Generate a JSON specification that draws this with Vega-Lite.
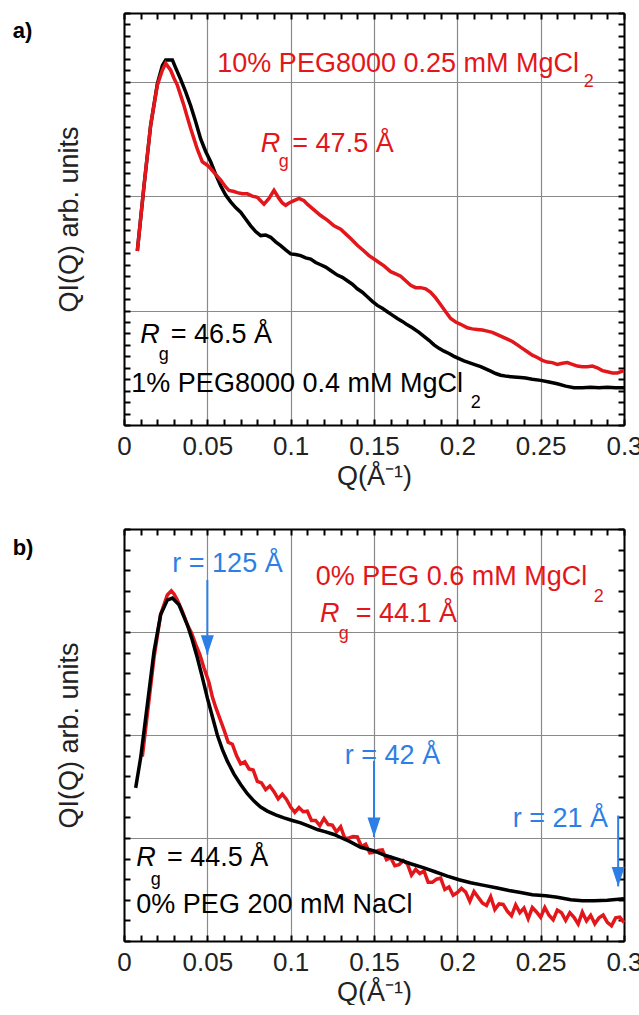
{
"$schema": "https://vega.github.io/schema/vega-lite/v6.json",
"background": "white",
"padding": {"left": 12, "top": 12, "right": 0, "bottom": 0},
"config": {"font": "Liberation Sans", "view": {"stroke": null}, "axis": {"labelFont": "Liberation Sans", "titleFont": "Liberation Sans"}, "text": {"font": "Liberation Sans"}},
"datasets": {
"aBlack": [{"Q":0.008,"I":1.52},{"Q":0.012,"I":2.09},{"Q":0.016,"I":2.62},{"Q":0.02,"I":2.98},{"Q":0.023,"I":3.14},{"Q":0.025,"I":3.19},{"Q":0.029,"I":3.19},{"Q":0.031,"I":3.12},{"Q":0.034,"I":3.02},{"Q":0.037,"I":2.91},{"Q":0.04,"I":2.79},{"Q":0.043,"I":2.65},{"Q":0.046,"I":2.5},{"Q":0.049,"I":2.39},{"Q":0.052,"I":2.3},{"Q":0.055,"I":2.19},{"Q":0.058,"I":2.09},{"Q":0.061,"I":2.01},{"Q":0.064,"I":1.95},{"Q":0.067,"I":1.9},{"Q":0.07,"I":1.86},{"Q":0.073,"I":1.8},{"Q":0.076,"I":1.74},{"Q":0.079,"I":1.69},{"Q":0.082,"I":1.655},{"Q":0.085,"I":1.66},{"Q":0.088,"I":1.64},{"Q":0.091,"I":1.6},{"Q":0.094,"I":1.567},{"Q":0.097,"I":1.53},{"Q":0.1,"I":1.495},{"Q":0.103,"I":1.49},{"Q":0.106,"I":1.48},{"Q":0.109,"I":1.46},{"Q":0.112,"I":1.45},{"Q":0.115,"I":1.42},{"Q":0.118,"I":1.4},{"Q":0.121,"I":1.38},{"Q":0.124,"I":1.35},{"Q":0.128,"I":1.31},{"Q":0.131,"I":1.29},{"Q":0.134,"I":1.26},{"Q":0.137,"I":1.23},{"Q":0.14,"I":1.19},{"Q":0.143,"I":1.16},{"Q":0.146,"I":1.12},{"Q":0.149,"I":1.08},{"Q":0.152,"I":1.045},{"Q":0.155,"I":1.02},{"Q":0.158,"I":0.99},{"Q":0.161,"I":0.96},{"Q":0.164,"I":0.93},{"Q":0.167,"I":0.905},{"Q":0.17,"I":0.875},{"Q":0.173,"I":0.85},{"Q":0.177,"I":0.81},{"Q":0.18,"I":0.775},{"Q":0.183,"I":0.74},{"Q":0.186,"I":0.7},{"Q":0.189,"I":0.67},{"Q":0.192,"I":0.645},{"Q":0.195,"I":0.625},{"Q":0.198,"I":0.6},{"Q":0.201,"I":0.58},{"Q":0.204,"I":0.56},{"Q":0.207,"I":0.545},{"Q":0.21,"I":0.53},{"Q":0.214,"I":0.51},{"Q":0.217,"I":0.49},{"Q":0.22,"I":0.47},{"Q":0.223,"I":0.45},{"Q":0.226,"I":0.435},{"Q":0.23,"I":0.425},{"Q":0.234,"I":0.42},{"Q":0.238,"I":0.415},{"Q":0.241,"I":0.41},{"Q":0.245,"I":0.4},{"Q":0.25,"I":0.39},{"Q":0.255,"I":0.375},{"Q":0.26,"I":0.36},{"Q":0.265,"I":0.34},{"Q":0.27,"I":0.325},{"Q":0.275,"I":0.325},{"Q":0.28,"I":0.33},{"Q":0.285,"I":0.325},{"Q":0.29,"I":0.33},{"Q":0.295,"I":0.325},{"Q":0.3,"I":0.325}],
"aRed": [{"Q":0.008,"I":1.52},{"Q":0.012,"I":2.09},{"Q":0.016,"I":2.62},{"Q":0.02,"I":2.97},{"Q":0.023,"I":3.1},{"Q":0.025,"I":3.16},{"Q":0.028,"I":3.1},{"Q":0.03,"I":3.03},{"Q":0.032,"I":2.97},{"Q":0.034,"I":2.88},{"Q":0.036,"I":2.79},{"Q":0.038,"I":2.69},{"Q":0.04,"I":2.59},{"Q":0.042,"I":2.5},{"Q":0.044,"I":2.41},{"Q":0.047,"I":2.3},{"Q":0.05,"I":2.27},{"Q":0.052,"I":2.24},{"Q":0.055,"I":2.19},{"Q":0.058,"I":2.14},{"Q":0.061,"I":2.08},{"Q":0.063,"I":2.05},{"Q":0.066,"I":2.04},{"Q":0.068,"I":2.03},{"Q":0.071,"I":2.02},{"Q":0.074,"I":2.02},{"Q":0.077,"I":2.0},{"Q":0.08,"I":1.99},{"Q":0.082,"I":1.96},{"Q":0.084,"I":1.93},{"Q":0.087,"I":1.98},{"Q":0.09,"I":2.05},{"Q":0.093,"I":1.98},{"Q":0.095,"I":1.94},{"Q":0.097,"I":1.92},{"Q":0.099,"I":1.94},{"Q":0.102,"I":1.96},{"Q":0.105,"I":1.98},{"Q":0.108,"I":1.96},{"Q":0.11,"I":1.93},{"Q":0.114,"I":1.88},{"Q":0.118,"I":1.83},{"Q":0.122,"I":1.79},{"Q":0.126,"I":1.74},{"Q":0.13,"I":1.71},{"Q":0.133,"I":1.67},{"Q":0.136,"I":1.63},{"Q":0.14,"I":1.57},{"Q":0.144,"I":1.52},{"Q":0.147,"I":1.48},{"Q":0.15,"I":1.45},{"Q":0.153,"I":1.42},{"Q":0.156,"I":1.39},{"Q":0.16,"I":1.34},{"Q":0.163,"I":1.32},{"Q":0.166,"I":1.3},{"Q":0.169,"I":1.26},{"Q":0.172,"I":1.22},{"Q":0.175,"I":1.2},{"Q":0.178,"I":1.2},{"Q":0.181,"I":1.19},{"Q":0.184,"I":1.16},{"Q":0.187,"I":1.11},{"Q":0.19,"I":1.05},{"Q":0.193,"I":0.99},{"Q":0.196,"I":0.93},{"Q":0.199,"I":0.9},{"Q":0.202,"I":0.88},{"Q":0.206,"I":0.85},{"Q":0.209,"I":0.84},{"Q":0.212,"I":0.835},{"Q":0.215,"I":0.83},{"Q":0.218,"I":0.82},{"Q":0.221,"I":0.81},{"Q":0.224,"I":0.79},{"Q":0.227,"I":0.77},{"Q":0.23,"I":0.75},{"Q":0.233,"I":0.73},{"Q":0.236,"I":0.7},{"Q":0.239,"I":0.67},{"Q":0.242,"I":0.64},{"Q":0.245,"I":0.61},{"Q":0.248,"I":0.59},{"Q":0.251,"I":0.565},{"Q":0.254,"I":0.55},{"Q":0.257,"I":0.545},{"Q":0.26,"I":0.53},{"Q":0.263,"I":0.54},{"Q":0.266,"I":0.545},{"Q":0.269,"I":0.53},{"Q":0.272,"I":0.515},{"Q":0.275,"I":0.51},{"Q":0.278,"I":0.51},{"Q":0.281,"I":0.515},{"Q":0.284,"I":0.5},{"Q":0.287,"I":0.475},{"Q":0.29,"I":0.465},{"Q":0.293,"I":0.455},{"Q":0.296,"I":0.455},{"Q":0.3,"I":0.475}],
"aText": [{"Q":0.056,"I":3.088,"series":"10% PEG8000","label":"10% PEG8000 0.25 mM MgCl"},{"Q":0.101,"I":2.384,"series":"10% PEG8000","label":"= 47.5 Å"},{"Q":0.028,"I":0.713,"series":"1% PEG8000","label":"= 46.5 Å"},{"Q":0.0044,"I":0.291,"series":"1% PEG8000","label":"1% PEG8000 0.4 mM MgCl"}],
"aItalic": [{"Q":0.082,"I":2.384,"series":"10% PEG8000","label":"R"},{"Q":0.0098,"I":0.713,"series":"1% PEG8000","label":"R"}],
"aSub": [{"Q":0.2758,"I":2.952,"series":"10% PEG8000","label":"2"},{"Q":0.0928,"I":2.255,"series":"10% PEG8000","label":"g"},{"Q":0.0209,"I":0.568,"series":"1% PEG8000","label":"g"},{"Q":0.208,"I":0.151,"series":"1% PEG8000","label":"2"}],
"aPanel": [{"Q":-0.0668,"I":3.383,"label":"a)"}],
"bBlack": [{"Q":0.007,"I":1.487},{"Q":0.01,"I":1.78},{"Q":0.014,"I":2.295},{"Q":0.018,"I":2.81},{"Q":0.022,"I":3.17},{"Q":0.026,"I":3.31},{"Q":0.029,"I":3.33},{"Q":0.033,"I":3.265},{"Q":0.038,"I":3.07},{"Q":0.041,"I":2.92},{"Q":0.044,"I":2.75},{"Q":0.047,"I":2.56},{"Q":0.05,"I":2.36},{"Q":0.053,"I":2.18},{"Q":0.056,"I":2.0},{"Q":0.059,"I":1.86},{"Q":0.062,"I":1.746},{"Q":0.066,"I":1.62},{"Q":0.07,"I":1.52},{"Q":0.074,"I":1.43},{"Q":0.078,"I":1.358},{"Q":0.082,"I":1.3},{"Q":0.086,"I":1.261},{"Q":0.091,"I":1.225},{"Q":0.096,"I":1.196},{"Q":0.101,"I":1.17},{"Q":0.106,"I":1.147},{"Q":0.111,"I":1.115},{"Q":0.116,"I":1.082},{"Q":0.121,"I":1.06},{"Q":0.126,"I":1.034},{"Q":0.13,"I":1.005},{"Q":0.135,"I":0.97},{"Q":0.142,"I":0.91},{"Q":0.15,"I":0.875},{"Q":0.157,"I":0.83},{"Q":0.165,"I":0.79},{"Q":0.172,"I":0.75},{"Q":0.18,"I":0.71},{"Q":0.187,"I":0.67},{"Q":0.194,"I":0.63},{"Q":0.201,"I":0.595},{"Q":0.208,"I":0.565},{"Q":0.216,"I":0.54},{"Q":0.224,"I":0.515},{"Q":0.231,"I":0.49},{"Q":0.238,"I":0.47},{"Q":0.245,"I":0.45},{"Q":0.253,"I":0.44},{"Q":0.26,"I":0.425},{"Q":0.268,"I":0.4},{"Q":0.275,"I":0.39},{"Q":0.282,"I":0.39},{"Q":0.29,"I":0.395},{"Q":0.3,"I":0.41}],
"bRed": [{"Q":0.011,"I":1.79},{"Q":0.014,"I":2.2},{"Q":0.018,"I":2.75},{"Q":0.022,"I":3.17},{"Q":0.026,"I":3.36},{"Q":0.0284,"I":3.4},{"Q":0.03,"I":3.37},{"Q":0.032,"I":3.31},{"Q":0.035,"I":3.2},{"Q":0.038,"I":3.07},{"Q":0.0405,"I":2.99},{"Q":0.043,"I":2.88},{"Q":0.0455,"I":2.78},{"Q":0.048,"I":2.65},{"Q":0.051,"I":2.51},{"Q":0.053,"I":2.37},{"Q":0.055,"I":2.27},{"Q":0.0575,"I":2.16},{"Q":0.06,"I":2.05},{"Q":0.0625,"I":1.93},{"Q":0.065,"I":1.91},{"Q":0.0675,"I":1.8},{"Q":0.07,"I":1.72},{"Q":0.0725,"I":1.74},{"Q":0.075,"I":1.67},{"Q":0.0775,"I":1.66},{"Q":0.08,"I":1.55},{"Q":0.0825,"I":1.535},{"Q":0.085,"I":1.47},{"Q":0.0875,"I":1.505},{"Q":0.09,"I":1.45},{"Q":0.0925,"I":1.38},{"Q":0.095,"I":1.425},{"Q":0.0975,"I":1.375},{"Q":0.1,"I":1.3},{"Q":0.1025,"I":1.25},{"Q":0.105,"I":1.295},{"Q":0.1075,"I":1.255},{"Q":0.11,"I":1.26},{"Q":0.1125,"I":1.17},{"Q":0.115,"I":1.17},{"Q":0.1175,"I":1.12},{"Q":0.12,"I":1.19},{"Q":0.1225,"I":1.13},{"Q":0.125,"I":1.125},{"Q":0.1275,"I":1.06},{"Q":0.13,"I":1.11},{"Q":0.1325,"I":0.995},{"Q":0.135,"I":1.0},{"Q":0.1375,"I":1.015},{"Q":0.14,"I":1.01},{"Q":0.1425,"I":0.915},{"Q":0.145,"I":0.94},{"Q":0.1475,"I":0.855},{"Q":0.15,"I":0.86},{"Q":0.1525,"I":0.88},{"Q":0.155,"I":0.885},{"Q":0.1575,"I":0.79},{"Q":0.16,"I":0.81},{"Q":0.1625,"I":0.73},{"Q":0.165,"I":0.74},{"Q":0.1675,"I":0.78},{"Q":0.17,"I":0.75},{"Q":0.1725,"I":0.64},{"Q":0.175,"I":0.695},{"Q":0.1775,"I":0.655},{"Q":0.18,"I":0.68},{"Q":0.1825,"I":0.57},{"Q":0.185,"I":0.57},{"Q":0.1875,"I":0.6},{"Q":0.19,"I":0.61},{"Q":0.1925,"I":0.5},{"Q":0.195,"I":0.525},{"Q":0.1975,"I":0.445},{"Q":0.2,"I":0.47},{"Q":0.2025,"I":0.51},{"Q":0.205,"I":0.475},{"Q":0.2075,"I":0.385},{"Q":0.21,"I":0.48},{"Q":0.2125,"I":0.425},{"Q":0.215,"I":0.37},{"Q":0.2175,"I":0.345},{"Q":0.22,"I":0.43},{"Q":0.2225,"I":0.305},{"Q":0.225,"I":0.36},{"Q":0.2275,"I":0.355},{"Q":0.23,"I":0.29},{"Q":0.2325,"I":0.245},{"Q":0.235,"I":0.35},{"Q":0.2375,"I":0.275},{"Q":0.24,"I":0.32},{"Q":0.2425,"I":0.217},{"Q":0.245,"I":0.325},{"Q":0.2475,"I":0.282},{"Q":0.25,"I":0.23},{"Q":0.2525,"I":0.325},{"Q":0.255,"I":0.25},{"Q":0.2575,"I":0.205},{"Q":0.26,"I":0.3},{"Q":0.2625,"I":0.275},{"Q":0.265,"I":0.2},{"Q":0.2675,"I":0.275},{"Q":0.27,"I":0.23},{"Q":0.2725,"I":0.165},{"Q":0.275,"I":0.28},{"Q":0.2775,"I":0.195},{"Q":0.28,"I":0.25},{"Q":0.2825,"I":0.167},{"Q":0.285,"I":0.225},{"Q":0.2875,"I":0.252},{"Q":0.29,"I":0.18},{"Q":0.2925,"I":0.147},{"Q":0.295,"I":0.225},{"Q":0.2975,"I":0.232},{"Q":0.3,"I":0.18}],
"bText": [{"Q":0.029,"I":3.582,"series":"radius","label":"r = 125 Å"},{"Q":0.1325,"I":1.717,"series":"radius","label":"r = 42 Å"},{"Q":0.2332,"I":1.104,"series":"radius","label":"r = 21 Å"},{"Q":0.115,"I":3.459,"series":"0% PEG MgCl2","label":"0% PEG 0.6 mM MgCl"},{"Q":0.139,"I":3.097,"series":"0% PEG MgCl2","label":"= 44.1 Å"},{"Q":0.0258,"I":0.733,"series":"0% PEG NaCl","label":"= 44.5 Å"},{"Q":0.0074,"I":0.274,"series":"0% PEG NaCl","label":"0% PEG 200 mM NaCl"}],
"bItalic": [{"Q":0.1176,"I":3.097,"series":"0% PEG MgCl2","label":"R"},{"Q":0.0074,"I":0.733,"series":"0% PEG NaCl","label":"R"}],
"bSub": [{"Q":0.2818,"I":3.291,"series":"0% PEG MgCl2","label":"2"},{"Q":0.1288,"I":2.935,"series":"0% PEG MgCl2","label":"g"},{"Q":0.016,"I":0.539,"series":"0% PEG NaCl","label":"g"}],
"bArrows": [{"Q":0.05,"top":3.505,"tip":2.78},{"Q":0.15,"top":1.75,"tip":1.01},{"Q":0.2965,"top":1.218,"tip":0.53}],
"bPanel": [{"Q":-0.0668,"I":3.747,"label":"b)"}]
},
"resolve": {"scale": {"x": "independent", "y": "independent", "color": "independent"}, "axis": {"x": "independent", "y": "independent"}},
"spacing": 39,
"vconcat": [
{
"width": 500, "height": 412,
"resolve": {"axis": {"x": "independent", "y": "independent"}},
"layer": [
{"data": {"name": "aBlack"}, "mark": {"type": "line", "color": "#000000", "strokeWidth": 3.5},
 "encoding": {
  "x": {"field": "Q", "type": "quantitative", "scale": {"domain": [0, 0.3], "nice": false, "zero": false},
   "axis": {"orient": "bottom", "values": [0, 0.05, 0.1, 0.15, 0.2, 0.25, 0.3], "format": "~g", "ticks": false, "grid": true, "gridColor": "#8a8a8a", "gridWidth": 1.2, "domain": true, "domainColor": "#000000", "domainWidth": 2, "labelFontSize": 26, "labelPadding": 8, "labelColor": "#222222", "labelFlush": false, "labelOverlap": false, "labelBound": false, "title": "Q(Å⁻¹)", "titleFontSize": 27, "titleFontWeight": "normal", "titleColor": "#222222", "titlePadding": 4}},
  "y": {"field": "I", "type": "quantitative", "scale": {"domain": [0, 3.6], "nice": false, "zero": false},
   "axis": {"orient": "left", "values": [1, 2, 3], "ticks": false, "labels": false, "grid": true, "gridColor": "#8a8a8a", "gridWidth": 1.2, "domain": true, "domainColor": "#000000", "domainWidth": 2, "title": "QI(Q) arb. units", "titleFontSize": 27, "titleFontWeight": "normal", "titleColor": "#222222", "titlePadding": 41, "minExtent": 0, "maxExtent": 0}}
 }},
{"data": {"name": "aRed"}, "mark": {"type": "line", "color": "#e3161b", "strokeWidth": 3.5},
 "encoding": {
  "x": {"field": "Q", "type": "quantitative", "scale": {"domain": [0, 0.3], "nice": false, "zero": false},
   "axis": {"orient": "bottom", "values": [0,0.01,0.02,0.03,0.04,0.05,0.06,0.07,0.08,0.09,0.1,0.11,0.12,0.13,0.14,0.15,0.16,0.17,0.18,0.19,0.2,0.21,0.22,0.23,0.24,0.25,0.26,0.27,0.28,0.29,0.3], "ticks": true, "tickSize": -6, "tickWidth": 2, "tickColor": "#000000", "labels": false, "grid": false, "domain": false, "title": null}},
  "y": {"field": "I", "type": "quantitative", "scale": {"domain": [0, 3.6], "nice": false, "zero": false},
   "axis": {"orient": "left", "values": [0,0.1,0.2,0.3,0.4,0.5,0.6,0.7,0.8,0.9,1,1.1,1.2,1.3,1.4,1.5,1.6,1.7,1.8,1.9,2,2.1,2.2,2.3,2.4,2.5,2.6,2.7,2.8,2.9,3,3.1,3.2,3.3,3.4,3.5,3.6], "ticks": true, "tickSize": -6, "tickWidth": 2, "tickColor": "#000000", "labels": false, "grid": false, "domain": false, "title": null, "minExtent": 0, "maxExtent": 0}}
 }},
{"data": {"name": "aText"}, "mark": {"type": "text", "align": "left", "baseline": "alphabetic", "fontSize": 27},
 "encoding": {
  "x": {"field": "Q", "type": "quantitative", "scale": {"domain": [0, 0.3], "nice": false, "zero": false},
   "axis": {"orient": "top", "values": [0,0.01,0.02,0.03,0.04,0.05,0.06,0.07,0.08,0.09,0.1,0.11,0.12,0.13,0.14,0.15,0.16,0.17,0.18,0.19,0.2,0.21,0.22,0.23,0.24,0.25,0.26,0.27,0.28,0.29,0.3], "ticks": true, "tickSize": -6, "tickWidth": 2, "tickColor": "#000000", "labels": false, "grid": false, "domain": true, "domainColor": "#000000", "domainWidth": 2, "title": null}},
  "y": {"field": "I", "type": "quantitative", "scale": {"domain": [0, 3.6], "nice": false, "zero": false},
   "axis": {"orient": "right", "values": [0,0.1,0.2,0.3,0.4,0.5,0.6,0.7,0.8,0.9,1,1.1,1.2,1.3,1.4,1.5,1.6,1.7,1.8,1.9,2,2.1,2.2,2.3,2.4,2.5,2.6,2.7,2.8,2.9,3,3.1,3.2,3.3,3.4,3.5,3.6], "ticks": true, "tickSize": -6, "tickWidth": 2, "tickColor": "#000000", "labels": false, "grid": false, "domain": true, "domainColor": "#000000", "domainWidth": 2, "title": null, "minExtent": 0, "maxExtent": 0}},
  "text": {"field": "label"},
  "color": {"field": "series", "type": "nominal", "scale": {"domain": ["1% PEG8000", "10% PEG8000"], "range": ["#000000", "#e3161b"]}, "legend": null}
 }},
{"data": {"name": "aItalic"}, "mark": {"type": "text", "align": "left", "baseline": "alphabetic", "fontSize": 27, "fontStyle": "italic"},
 "encoding": {
  "x": {"field": "Q", "type": "quantitative", "axis": null},
  "y": {"field": "I", "type": "quantitative", "axis": null},
  "text": {"field": "label"},
  "color": {"field": "series", "type": "nominal", "scale": {"domain": ["1% PEG8000", "10% PEG8000"], "range": ["#000000", "#e3161b"]}, "legend": null}
 }},
{"data": {"name": "aSub"}, "mark": {"type": "text", "align": "left", "baseline": "alphabetic", "fontSize": 18},
 "encoding": {
  "x": {"field": "Q", "type": "quantitative", "axis": null},
  "y": {"field": "I", "type": "quantitative", "axis": null},
  "text": {"field": "label"},
  "color": {"field": "series", "type": "nominal", "scale": {"domain": ["1% PEG8000", "10% PEG8000"], "range": ["#000000", "#e3161b"]}, "legend": null}
 }},
{"data": {"name": "aPanel"}, "mark": {"type": "text", "align": "left", "baseline": "alphabetic", "fontSize": 22, "fontWeight": "bold", "color": "#000000"},
 "encoding": {
  "x": {"field": "Q", "type": "quantitative", "axis": null},
  "y": {"field": "I", "type": "quantitative", "axis": null},
  "text": {"field": "label"}
 }}
]
},
{
"width": 500, "height": 412,
"resolve": {"axis": {"x": "independent", "y": "independent"}},
"layer": [
{"data": {"name": "bRed"}, "mark": {"type": "line", "color": "#e3161b", "strokeWidth": 3.5},
 "encoding": {
  "x": {"field": "Q", "type": "quantitative", "scale": {"domain": [0, 0.3], "nice": false, "zero": false},
   "axis": {"orient": "bottom", "values": [0,0.01,0.02,0.03,0.04,0.05,0.06,0.07,0.08,0.09,0.1,0.11,0.12,0.13,0.14,0.15,0.16,0.17,0.18,0.19,0.2,0.21,0.22,0.23,0.24,0.25,0.26,0.27,0.28,0.29,0.3], "ticks": true, "tickSize": -6, "tickWidth": 2, "tickColor": "#000000", "labels": false, "grid": false, "domain": false, "title": null}},
  "y": {"field": "I", "type": "quantitative", "scale": {"domain": [0, 4], "nice": false, "zero": false},
   "axis": {"orient": "left", "values": [0,0.2,0.4,0.6,0.8,1,1.2,1.4,1.6,1.8,2,2.2,2.4,2.6,2.8,3,3.2,3.4,3.6,3.8,4], "ticks": true, "tickSize": -6, "tickWidth": 2, "tickColor": "#000000", "labels": false, "grid": false, "domain": false, "title": null, "minExtent": 0, "maxExtent": 0}}
 }},
{"data": {"name": "bBlack"}, "mark": {"type": "line", "color": "#000000", "strokeWidth": 3.5},
 "encoding": {
  "x": {"field": "Q", "type": "quantitative", "scale": {"domain": [0, 0.3], "nice": false, "zero": false},
   "axis": {"orient": "bottom", "values": [0, 0.05, 0.1, 0.15, 0.2, 0.25, 0.3], "format": "~g", "ticks": false, "grid": true, "gridColor": "#8a8a8a", "gridWidth": 1.2, "domain": true, "domainColor": "#000000", "domainWidth": 2, "labelFontSize": 26, "labelPadding": 8, "labelColor": "#222222", "labelFlush": false, "labelOverlap": false, "labelBound": false, "title": "Q(Å⁻¹)", "titleFontSize": 27, "titleFontWeight": "normal", "titleColor": "#222222", "titlePadding": 4}},
  "y": {"field": "I", "type": "quantitative", "scale": {"domain": [0, 4], "nice": false, "zero": false},
   "axis": {"orient": "left", "values": [1, 2, 3], "ticks": false, "labels": false, "grid": true, "gridColor": "#8a8a8a", "gridWidth": 1.2, "domain": true, "domainColor": "#000000", "domainWidth": 2, "title": "QI(Q) arb. units", "titleFontSize": 27, "titleFontWeight": "normal", "titleColor": "#222222", "titlePadding": 41, "minExtent": 0, "maxExtent": 0}}
 }},
{"data": {"name": "bText"}, "mark": {"type": "text", "align": "left", "baseline": "alphabetic", "fontSize": 27},
 "encoding": {
  "x": {"field": "Q", "type": "quantitative", "scale": {"domain": [0, 0.3], "nice": false, "zero": false},
   "axis": {"orient": "top", "values": [0,0.01,0.02,0.03,0.04,0.05,0.06,0.07,0.08,0.09,0.1,0.11,0.12,0.13,0.14,0.15,0.16,0.17,0.18,0.19,0.2,0.21,0.22,0.23,0.24,0.25,0.26,0.27,0.28,0.29,0.3], "ticks": true, "tickSize": -6, "tickWidth": 2, "tickColor": "#000000", "labels": false, "grid": false, "domain": true, "domainColor": "#000000", "domainWidth": 2, "title": null}},
  "y": {"field": "I", "type": "quantitative", "scale": {"domain": [0, 4], "nice": false, "zero": false},
   "axis": {"orient": "right", "values": [0,0.2,0.4,0.6,0.8,1,1.2,1.4,1.6,1.8,2,2.2,2.4,2.6,2.8,3,3.2,3.4,3.6,3.8,4], "ticks": true, "tickSize": -6, "tickWidth": 2, "tickColor": "#000000", "labels": false, "grid": false, "domain": true, "domainColor": "#000000", "domainWidth": 2, "title": null, "minExtent": 0, "maxExtent": 0}},
  "text": {"field": "label"},
  "color": {"field": "series", "type": "nominal", "scale": {"domain": ["0% PEG NaCl", "0% PEG MgCl2", "radius"], "range": ["#000000", "#e3161b", "#2d7fe6"]}, "legend": null}
 }},
{"data": {"name": "bItalic"}, "mark": {"type": "text", "align": "left", "baseline": "alphabetic", "fontSize": 27, "fontStyle": "italic"},
 "encoding": {
  "x": {"field": "Q", "type": "quantitative", "axis": null},
  "y": {"field": "I", "type": "quantitative", "axis": null},
  "text": {"field": "label"},
  "color": {"field": "series", "type": "nominal", "scale": {"domain": ["0% PEG NaCl", "0% PEG MgCl2", "radius"], "range": ["#000000", "#e3161b", "#2d7fe6"]}, "legend": null}
 }},
{"data": {"name": "bSub"}, "mark": {"type": "text", "align": "left", "baseline": "alphabetic", "fontSize": 18},
 "encoding": {
  "x": {"field": "Q", "type": "quantitative", "axis": null},
  "y": {"field": "I", "type": "quantitative", "axis": null},
  "text": {"field": "label"},
  "color": {"field": "series", "type": "nominal", "scale": {"domain": ["0% PEG NaCl", "0% PEG MgCl2", "radius"], "range": ["#000000", "#e3161b", "#2d7fe6"]}, "legend": null}
 }},
{"data": {"name": "bArrows"}, "mark": {"type": "rule", "color": "#2d7fe6", "strokeWidth": 2},
 "encoding": {
  "x": {"field": "Q", "type": "quantitative", "axis": null},
  "y": {"field": "top", "type": "quantitative", "axis": null},
  "y2": {"field": "tip"}
 }},
{"data": {"name": "bArrows"}, "mark": {"type": "point", "shape": "M-1,-3L1,-3L0,0Z", "filled": true, "opacity": 1, "size": 169, "color": "#2d7fe6"},
 "encoding": {
  "x": {"field": "Q", "type": "quantitative", "axis": null},
  "y": {"field": "tip", "type": "quantitative", "axis": null}
 }},
{"data": {"name": "bPanel"}, "mark": {"type": "text", "align": "left", "baseline": "alphabetic", "fontSize": 22, "fontWeight": "bold", "color": "#000000"},
 "encoding": {
  "x": {"field": "Q", "type": "quantitative", "axis": null},
  "y": {"field": "I", "type": "quantitative", "axis": null},
  "text": {"field": "label"}
 }}
]
}
]
}
